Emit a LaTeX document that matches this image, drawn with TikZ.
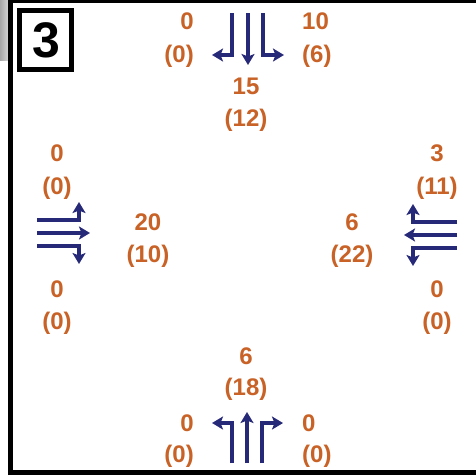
\documentclass[tikz,border=0pt]{standalone}
\usepackage{fontspec}
\setmainfont{Liberation Sans}
\usepackage{tikz}
\usetikzlibrary{arrows.meta, positioning, calc}
\definecolor{conteggio}{RGB}{200,98,38}
\definecolor{flusso}{RGB}{38,40,120}

\begin{document}
\begin{tikzpicture}[x=1pt, y=-1pt,
    num/.style={text=conteggio, font=\fontsize{24}{24}\selectfont\bfseries, inner sep=0pt},
    svolta/.style={draw=flusso, line width=4pt, -{Stealth[length=11pt, width=13pt, inset=2.5pt]}}]

\useasboundingbox (0,0) rectangle (476,475);
\fill[white] (0,0) rectangle (476,475);

%------------------------------------------------
% Cornice e riquadro del numero
%------------------------------------------------
\fill[left color=gray!70, right color=gray!35] (0,0) rectangle (8,60);
\draw[line width=5pt] (10.5,475) -- (10.5,0);
\draw[line width=3pt] (8,1.5) -- (476,1.5);
\draw[line width=5pt] (8,472.5) -- (476,472.5);
\draw[line width=5.5pt, fill=white] (19.5,10.5) rectangle (71.5,69.5);
\node[inner sep=0pt, font=\fontsize{50}{50}\selectfont\bfseries] (etichetta) at (46,40) {3};

%------------------------------------------------
% Ramo nord
%------------------------------------------------
\node[num, anchor=east] (nsx) at (194,21) {0};
\node[num, anchor=east] (nsxb) at (194,56) {(0)};
\node[num, anchor=west] (ndx) at (302,21) {10};
\node[num, anchor=west] (ndxb) at (302,56) {(6)};
\node[num] (ndritto) at (246,86) {15};
\node[num] (ndrittob) at (246,120) {(12)};

% Frecce di svolta
\draw[svolta] (232,13) -- (232,55) -- (212,55);
\draw[svolta] (248,13) -- (248,65);
\draw[svolta] (263,13) -- (263,55) -- (284,55);

%------------------------------------------------
% Ramo ovest
%------------------------------------------------
\node[num] (osx) at (57,153) {0};
\node[num] (osxb) at (57,188) {(0)};
\node[num] (odritto) at (148,222) {20};
\node[num] (odrittob) at (148,256) {(10)};
\node[num] (odx) at (57,289) {0};
\node[num] (odxb) at (57,323) {(0)};

\draw[svolta] (37,220) -- (79,220) -- (79,202);
\draw[svolta] (37,233) -- (90,233);
\draw[svolta] (37,246) -- (79,246) -- (79,264);

%------------------------------------------------
% Ramo est
%------------------------------------------------
\node[num] (edx) at (437,153) {3};
\node[num] (edxb) at (437,188) {(11)};
\node[num] (edritto) at (352,222) {6};
\node[num] (edrittob) at (352,256) {(22)};
\node[num] (esx) at (437,289) {0};
\node[num] (esxb) at (437,323) {(0)};

\draw[svolta] (457,222) -- (413,222) -- (413,204);
\draw[svolta] (457,235) -- (404,235);
\draw[svolta] (457,248) -- (413,248) -- (413,266);

%------------------------------------------------
% Ramo sud
%------------------------------------------------
\node[num] (sdritto) at (246,356) {6};
\node[num] (sdrittob) at (246,389) {(18)};
\node[num, anchor=east] (ssx) at (194,423) {0};
\node[num, anchor=east] (ssxb) at (194,456) {(0)};
\node[num, anchor=west] (sdx) at (302,423) {0};
\node[num, anchor=west] (sdxb) at (302,456) {(0)};

\draw[svolta] (232,463) -- (232,423) -- (212,423);
\draw[svolta] (247,463) -- (247,412);
\draw[svolta] (262,463) -- (262,423) -- (283,423);

\end{tikzpicture}
\end{document}
